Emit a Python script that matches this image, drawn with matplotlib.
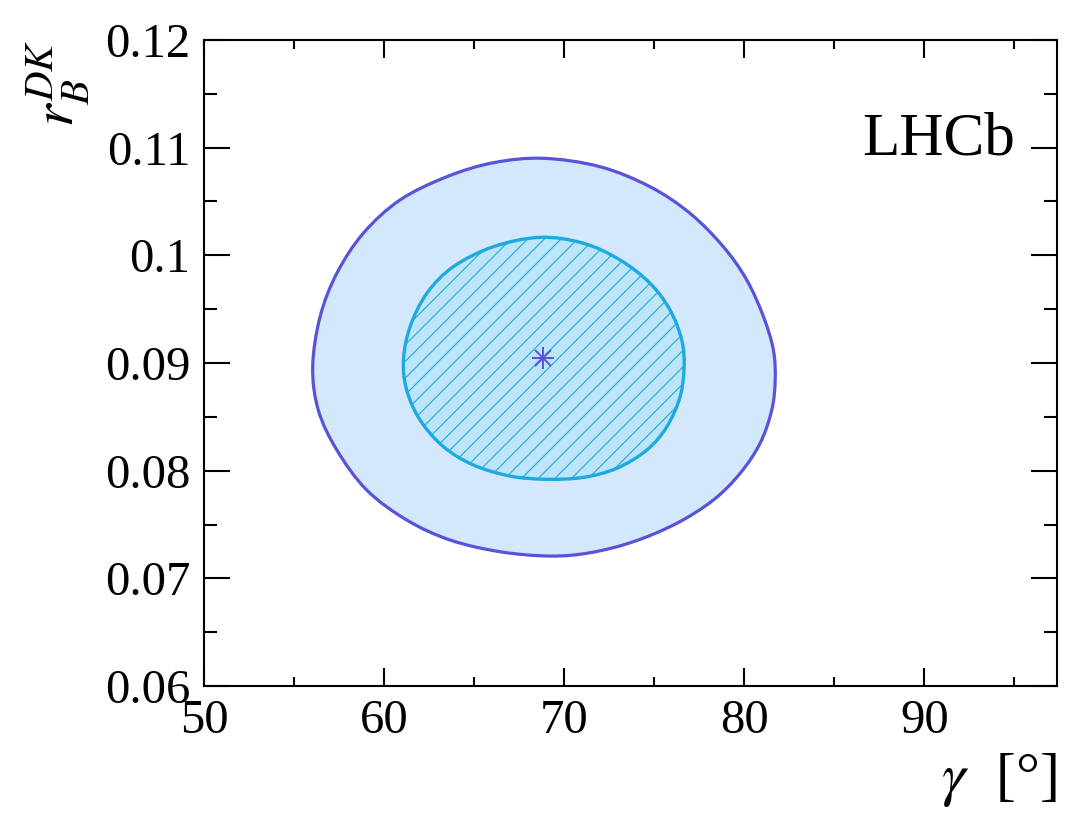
import numpy as np
import matplotlib
matplotlib.use('Agg')
import matplotlib.pyplot as plt
from matplotlib.path import Path
from matplotlib.patches import PathPatch
from matplotlib.ticker import MultipleLocator, FuncFormatter

plt.rcParams['font.family'] = ['Liberation Serif', 'DejaVu Serif']
plt.rcParams['mathtext.fontset'] = 'stix'
plt.rcParams['hatch.linewidth'] = 0.8

# outer contour (2 sigma), clockwise from the top
outer_gamma = [68.83, 71.98, 74.76, 76.98, 78.83, 80.13, 81.06, 81.61, 81.71, 81.52,
               80.87, 79.76, 78.28, 76.24, 73.83, 71.43, 69.21, 66.43, 63.65, 61.24,
               59.02, 57.36, 56.33, 56.02, 56.43, 57.36, 58.83, 60.87, 63.47, 66.06]
outer_rb = [0.10901, 0.10823, 0.10637, 0.10390, 0.10080, 0.09771, 0.09430, 0.09121, 0.08842, 0.08563,
            0.08254, 0.07975, 0.07728, 0.07511, 0.07340, 0.07238, 0.07207, 0.07247, 0.07356, 0.07542,
            0.07820, 0.08192, 0.08563, 0.08966, 0.09430, 0.09833, 0.10205, 0.10514, 0.10730, 0.10860]

# inner contour (1 sigma)
inner_gamma = [68.65, 71.06, 73.09, 74.76, 75.87, 76.52, 76.65, 76.43, 75.69, 74.58,
               72.91, 71.06, 69.02, 66.98, 64.94, 63.28, 61.98, 61.24, 61.06, 61.43,
               62.36, 63.83, 66.06]
inner_rb = [0.10167, 0.10112, 0.09957, 0.09740, 0.09492, 0.09214, 0.08966, 0.08687, 0.08408, 0.08192,
            0.08022, 0.07938, 0.07920, 0.07950, 0.08053, 0.08223, 0.08471, 0.08749, 0.09028, 0.09337,
            0.09647, 0.09894, 0.10080]

best_gamma = 68.83
best_rb = 0.09044

outer_fill = '#d3e8fc'
outer_line = '#5a53d8'
inner_fill = '#bde5fa'
inner_line = '#1ea9e1'


def closed_curve(xs, ys):
    # closed Catmull-Rom curve through the read points, as cubic Bezier segments
    p = np.column_stack([xs, ys])
    n = len(p)
    verts = [p[0]]
    codes = [Path.MOVETO]
    for i in range(n):
        p0, p1, p2, p3 = p[i - 1], p[i], p[(i + 1) % n], p[(i + 2) % n]
        verts += [p1 + (p2 - p0) / 6, p2 - (p3 - p1) / 6, p2]
        codes += [Path.CURVE4] * 3
    return Path(verts, codes)


fig = plt.figure(figsize=(10.76, 8.36), dpi=100)
ax = fig.add_axes([0.1899, 0.1794, 0.7922, 0.7728])

outer = closed_curve(outer_gamma, outer_rb)
inner = closed_curve(inner_gamma, inner_rb)

ax.add_patch(PathPatch(outer, facecolor=outer_fill, edgecolor=outer_line, lw=2.3, zorder=1))
ax.add_patch(PathPatch(inner, facecolor=inner_fill, edgecolor='none', lw=0, zorder=2))
ax.add_patch(PathPatch(inner, facecolor='none', edgecolor=inner_line, hatch='//', lw=0, zorder=3))
ax.add_patch(PathPatch(inner, facecolor='none', edgecolor=inner_line, lw=2.4, zorder=4))

ax.plot(best_gamma, best_rb, marker='+', ms=16, mew=1.4, color=outer_line, zorder=5)
ax.plot(best_gamma, best_rb, marker='x', ms=12, mew=1.4, color=outer_line, zorder=5)

ax.set_xlim(50, 97.35)
ax.set_ylim(0.06, 0.12)

ax.xaxis.set_major_locator(MultipleLocator(10))
ax.xaxis.set_minor_locator(MultipleLocator(5))
ax.yaxis.set_major_locator(MultipleLocator(0.01))
ax.yaxis.set_minor_locator(MultipleLocator(0.005))
ax.yaxis.set_major_formatter(FuncFormatter(lambda v, _: f'{v:g}'))

for s in ax.spines.values():
    s.set_linewidth(1.5)
ax.tick_params(which='both', direction='in', top=True, right=True, width=1.5, labelsize=35)
ax.tick_params(axis='x', which='major', length=13, pad=9)
ax.tick_params(axis='x', which='minor', length=6.5)
ax.tick_params(axis='y', which='major', length=18.7, pad=10)
ax.tick_params(axis='y', which='minor', length=9.4)

ax.set_xlabel('$\\gamma$  [°]', fontsize=43, loc='right')
ax.xaxis.set_label_coords(1.0, -0.1)
ax.xaxis.label.set_va('top')
ax.set_ylabel(r'$r_B^{DK}$', fontsize=42, loc='top')
ax.yaxis.set_label_coords(-0.132, 1.0)

ax.text(0.951, 0.822, 'LHCb', transform=ax.transAxes, ha='right', va='baseline', fontsize=44)

fig.savefig('out.png', dpi=100)
